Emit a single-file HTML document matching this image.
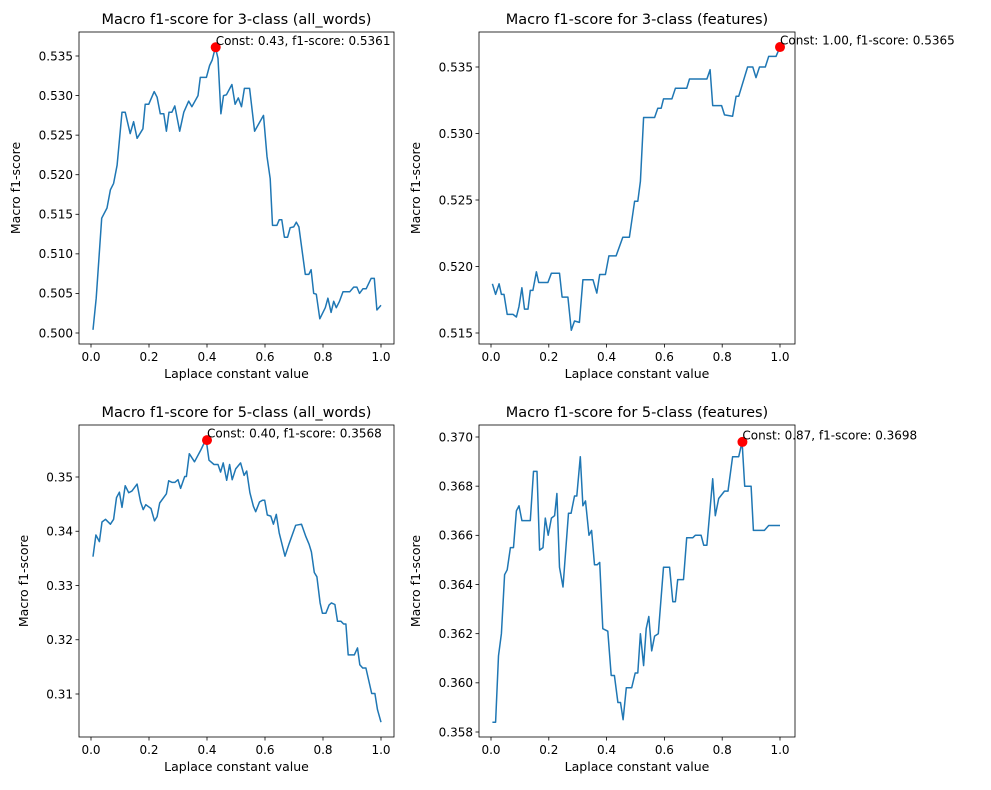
<!DOCTYPE html>
<html><head><meta charset="utf-8">
<style>
html,body{margin:0;padding:0;background:#fff;}
svg{display:block;font-family:"DejaVu Sans","Liberation Sans",sans-serif;}
</style></head>
<body>
<svg id="fig" width="991" height="790" viewBox="0 0 991 790" xmlns="http://www.w3.org/2000/svg"></svg>
<script>
// ---- data ----
const xTickLabels = [0.0, 0.2, 0.4, 0.6, 0.8, 1.0];
const p1Titles = "Macro f1-score for 3-class (all_words)";
const p1X = [.007,.018,.037,.055,.067,.078,.090,.107,.118,.135,.147,.159,.179,.187,.199,.218,.228,.239,.251,.260,.269,.279,.289,.306,.320,.337,.348,.369,.377,.398,.409,.418,.429,.438,.448,.457,.467,.486,.497,.508,.519,.529,.547,.564,.595,.607,.618,.626,.641,.649,.658,.667,.678,.687,.699,.708,.717,.739,.751,.759,.768,.777,.789,.808,.817,.828,.837,.846,.857,.869,.892,.906,.917,.926,.938,.949,.966,.977,.986,1.0];
const p1Y = [.5004,.5044,.5145,.5158,.5181,.5189,.5212,.5279,.5279,.5252,.5267,.5246,.5258,.5289,.5289,.5305,.5298,.5277,.5277,.5255,.5279,.5279,.5287,.5255,.5279,.5293,.5286,.5300,.5323,.5323,.5338,.5345,.5361,.5347,.5277,.5300,.5301,.5314,.5289,.5297,.5286,.5309,.5309,.5255,.5275,.5223,.5195,.5136,.5136,.5143,.5143,.5121,.5121,.5133,.5134,.5140,.5134,.5074,.5074,.5080,.5050,.5049,.5018,.5032,.5044,.5026,.5040,.5032,.5040,.5052,.5052,.5058,.5058,.5050,.5056,.5056,.5069,.5069,.5029,.5035];
const p1Ticks = [0.500,0.505,0.510,0.515,0.520,0.525,0.530,0.535];
const p1Best = [0.43, 0.5361];

const p2X = [.005,.016,.028,.036,.045,.056,.076,.088,.097,.107,.116,.128,.136,.145,.157,.165,.197,.209,.237,.246,.266,.278,.289,.306,.318,.353,.366,.376,.396,.408,.433,.456,.479,.497,.508,.517,.528,.566,.577,.589,.597,.626,.638,.677,.687,.747,.758,.767,.798,.808,.836,.848,.857,.888,.906,.917,.929,.949,.961,.986,1.0];
const p2Y = [.5187,.5179,.5187,.5179,.5179,.5164,.5164,.5162,.5170,.5184,.5168,.5168,.5182,.5182,.5196,.5188,.5188,.5195,.5195,.5177,.5177,.5152,.5159,.5158,.5190,.5190,.5180,.5194,.5194,.5208,.5208,.5222,.5222,.5249,.5249,.5264,.5312,.5312,.5319,.5319,.5326,.5326,.5334,.5334,.5341,.5341,.5348,.5321,.5321,.5314,.5313,.5328,.5328,.5350,.5350,.5342,.5350,.5350,.5358,.5358,.5365];
const p2Ticks = [0.515,0.520,0.525,0.530,0.535];
const p2Best = [1.00, 0.5365];

const p3X = [.007,.017,.029,.038,.050,.067,.078,.088,.098,.107,.118,.130,.141,.159,.171,.180,.189,.207,.219,.228,.237,.260,.268,.280,.289,.300,.309,.323,.329,.339,.357,.378,.397,.407,.424,.438,.447,.456,.468,.478,.487,.499,.516,.528,.537,.548,.560,.568,.581,.591,.599,.608,.620,.629,.639,.649,.669,.683,.706,.726,.741,.752,.760,.770,.779,.790,.798,.810,.821,.829,.841,.850,.862,.871,.879,.887,.908,.919,.927,.937,.948,.968,.979,.988,1.0];
const p3Y = [.3353,.3393,.3381,.3417,.3422,.3413,.3422,.3462,.3472,.3444,.3484,.3471,.3474,.3487,.3454,.3440,.3449,.3442,.3419,.3427,.3452,.3469,.3493,.3490,.3490,.3495,.3479,.3501,.3501,.3543,.3528,.3549,.3570,.3531,.3523,.3523,.3509,.3526,.3494,.3523,.3495,.3515,.3526,.3503,.3511,.3471,.3446,.3436,.3454,.3457,.3457,.3430,.3428,.3413,.3431,.3397,.3354,.3377,.3411,.3413,.3390,.3376,.3362,.3324,.3316,.3268,.3249,.3249,.3264,.3268,.3265,.3234,.3234,.3229,.3229,.3172,.3172,.3185,.3154,.3148,.3148,.3101,.3101,.3071,.3048];
const p3Ticks = [0.31,0.32,0.33,0.34,0.35];
const p3Best = [0.40, 0.3568];

const p4X = [.005,.016,.026,.036,.047,.056,.067,.078,.088,.097,.107,.136,.147,.159,.168,.180,.188,.198,.209,.220,.228,.237,.249,.260,.268,.277,.289,.297,.309,.318,.327,.339,.348,.358,.367,.376,.387,.404,.416,.427,.439,.448,.457,.468,.487,.499,.508,.517,.528,.537,.546,.556,.566,.579,.597,.608,.618,.629,.638,.646,.666,.677,.698,.707,.727,.736,.747,.767,.776,.788,.808,.820,.836,.857,.869,.878,.900,.908,.946,.961,1.0];
const p4Y = [.3584,.3584,.3611,.3620,.3644,.3646,.3655,.3655,.3670,.3672,.3666,.3666,.3686,.3686,.3654,.3655,.3667,.3660,.3667,.3668,.3677,.3647,.3639,.3656,.3669,.3669,.3676,.3676,.3692,.3672,.3674,.3660,.3662,.3648,.3648,.3649,.3622,.3621,.3603,.3603,.3592,.3592,.3585,.3598,.3598,.3604,.3604,.3620,.3607,.3622,.3627,.3613,.3619,.3620,.3647,.3647,.3647,.3633,.3633,.3642,.3642,.3659,.3659,.3660,.3660,.3656,.3656,.3683,.3668,.3675,.3678,.3678,.3692,.3692,.3698,.3680,.3680,.3662,.3662,.3664,.3664];
const p4Ticks = [0.358,0.360,0.362,0.364,0.366,0.368,0.370];
const p4Best = [0.87, 0.3698];

const NS = "http://www.w3.org/2000/svg";
const svg = document.getElementById('fig');
function mk(tag, attrs, parent){
  const e = document.createElementNS(NS, tag);
  for (const k in attrs) e.setAttribute(k, attrs[k]);
  (parent||svg).appendChild(e);
  return e;
}

function panel(cfg){
  const g = mk('g', {});
  
  
  // axis functions
  const xs = v => cfg.x0px + v*(cfg.x1px - cfg.x0px);
  const ys = v => cfg.yApx + (v - cfg.yA)/(cfg.yB - cfg.yA)*(cfg.yBpx - cfg.yApx);
  // frame
  const fr = mk('rect', {x:cfg.L, y:cfg.T, width:cfg.R-cfg.L, height:cfg.B-cfg.T, fill:'none', stroke:'#000', 'stroke-width':0.8}, g);
  
  
  // x ticks
  xTickLabels.forEach(t => {
    const px = xs(t);
    mk('line', {x1:px, x2:px, y1:cfg.B, y2:cfg.B+3.5, stroke:'#000', 'stroke-width':0.8}, g);
    const tx = mk('text', {x:px, y:cfg.B+17, 'text-anchor':'middle', 'font-size':12, fill:'#000'}, g);
    tx.textContent = t.toFixed(1);
    
    
  });
  // y ticks
  cfg.ticks.forEach(t => {
    const py = ys(t);
    mk('line', {x1:cfg.L-3.5, x2:cfg.L, y1:py, y2:py, stroke:'#000', 'stroke-width':0.8}, g);
    const tx = mk('text', {x:cfg.L-6, y:py+4.3, 'text-anchor':'end', 'font-size':12, fill:'#000'}, g);
    tx.textContent = t.toFixed(cfg.dec);
    
    
  });
  // line
  let d = '';
  cfg.xv.forEach((x,i) => { d += (i?'L':'M') + xs(x).toFixed(1) + ' ' + ys(cfg.yv[i]).toFixed(1); });
  const ln = mk('path', {d:d, fill:'none', stroke:'#1f77b4', 'stroke-width':1.5, 'stroke-linejoin':'round'}, g);
  
  
  // best marker
  const bx = xs(cfg.best[0]), by = ys(cfg.best[1]);
  const c = mk('circle', {cx:bx, cy:by, r:5, fill:'#ff0000'}, g);
  
  
  const an = mk('text', {x:bx, y:by-2.5, 'font-size':12, fill:'#000'}, g);
  an.textContent = 'Const: ' + cfg.best[0].toFixed(2) + ', f1-score: ' + cfg.best[1].toFixed(4);
  
  
  // title
  const ti = mk('text', {x:(cfg.L+cfg.R)/2, y:cfg.T-8, 'text-anchor':'middle', 'font-size':14.5, fill:'#000'}, g);
  ti.textContent = cfg.title;
  
  
  // x label
  const xl = mk('text', {x:(cfg.L+cfg.R)/2, y:cfg.B+34, 'text-anchor':'middle', 'font-size':12.5, fill:'#000'}, g);
  xl.textContent = 'Laplace constant value';
  
  
  // y label
  const cy = (cfg.T+cfg.B)/2;
  const yl = mk('text', {x:cfg.ylx, y:cy, 'text-anchor':'middle', 'font-size':12.5, fill:'#000', transform:'rotate(-90 '+cfg.ylx+' '+cy+')'}, g);
  yl.textContent = 'Macro f1-score';
  
  
}

panel({name:'panel-3class-all-words', title:'Macro f1-score for 3-class (all_words)', L:79,R:394,T:32,B:344,
  x0px:91,x1px:381, yA:0.500,yApx:333, yB:0.535,yBpx:56, ticks:p1Ticks, dec:3, xv:p1X, yv:p1Y, best:p1Best, ylx:20});
panel({name:'panel-3class-features', title:'Macro f1-score for 3-class (features)', L:479,R:795,T:32,B:344,
  x0px:491,x1px:780, yA:0.515,yApx:333, yB:0.535,yBpx:67, ticks:p2Ticks, dec:3, xv:p2X, yv:p2Y, best:p2Best, ylx:420});
panel({name:'panel-5class-all-words', title:'Macro f1-score for 5-class (all_words)', L:79,R:394,T:425,B:737,
  x0px:91,x1px:381, yA:0.31,yApx:694, yB:0.35,yBpx:477, ticks:p3Ticks, dec:2, xv:p3X, yv:p3Y, best:p3Best, ylx:28});
panel({name:'panel-5class-features', title:'Macro f1-score for 5-class (features)', L:479,R:795,T:425,B:737,
  x0px:491,x1px:780, yA:0.358,yApx:732, yB:0.370,yBpx:437, ticks:p4Ticks, dec:3, xv:p4X, yv:p4Y, best:p4Best, ylx:420});
</script>
</body></html>
